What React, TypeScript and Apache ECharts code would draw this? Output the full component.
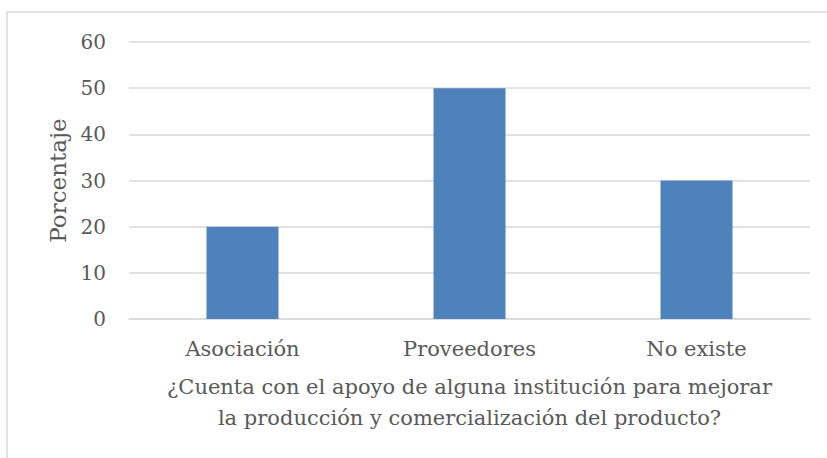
import React, { useEffect, useRef } from "react";
import * as echarts from "echarts";

const categories = ["Asociación", "Proveedores", "No existe"];
const values = [20, 50, 30];
const yTicks = { min: 0, max: 60, interval: 10 };
const yTitle = "Porcentaje";
const xTitle = "¿Cuenta con el apoyo de alguna institución para mejorar\nla producción y comercialización del producto?";

const FONT = "DejaVu Serif";
const TXT = "#595959";
const GRID = "#D9D9D9";

export default function App() {
  const ref = useRef<HTMLDivElement>(null);
  useEffect(() => {
    if (!ref.current) return;
    const chart = echarts.init(ref.current, null, { renderer: "svg" });
    chart.setOption({
      animation: false,
      backgroundColor: "#ffffff",
      textStyle: { fontFamily: FONT },
      graphic: [
        {
          type: "rect",
          shape: { x: 7, y: 12, width: 900, height: 600 },
          style: { fill: "none", stroke: GRID, lineWidth: 1.5 },
          silent: true,
        },
      ],
      grid: { left: 129, right: 17, top: 42, bottom: 139 },
      xAxis: {
        type: "category",
        data: categories,
        axisLine: { show: true, lineStyle: { color: GRID, width: 1.5 } },
        axisTick: { show: false },
        axisLabel: { color: TXT, fontFamily: FONT, fontSize: 21, margin: 19 },
        name: xTitle,
        nameLocation: "middle",
        nameGap: 52,
        nameTextStyle: { color: TXT, fontFamily: FONT, fontSize: 21, lineHeight: 31, align: "center" },
      },
      yAxis: {
        type: "value",
        min: yTicks.min,
        max: yTicks.max,
        interval: yTicks.interval,
        axisLine: { show: false },
        axisTick: { show: false },
        splitLine: { show: true, lineStyle: { color: GRID, width: 1.5 } },
        axisLabel: { color: TXT, fontFamily: FONT, fontSize: 20, margin: 23 },
        name: yTitle,
        nameLocation: "middle",
        nameGap: 58,
        nameRotate: 90,
        nameTextStyle: { color: TXT, fontFamily: FONT, fontSize: 23 },
      },
      series: [
        {
          type: "bar",
          data: values,
          barWidth: 72,
          itemStyle: { color: "#4F81BD" },
        },
      ],
    });
    return () => chart.dispose();
  }, []);
  return (
    <div
      ref={ref}
      style={{ position: "fixed", left: 0, top: 0, width: 827, height: 458 }}
    />
  );
}
